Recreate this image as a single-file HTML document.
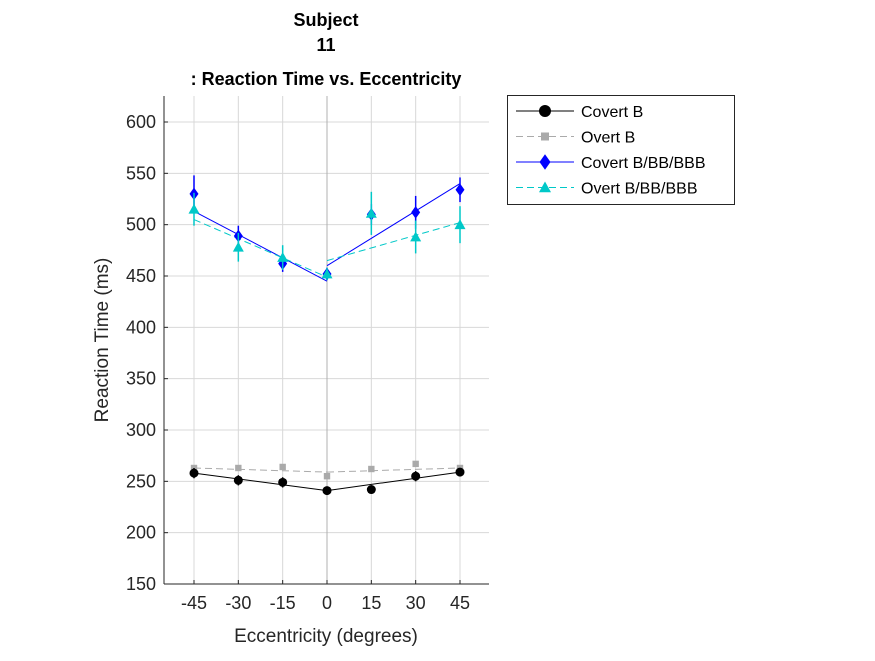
<!DOCTYPE html>
<html><head><meta charset="utf-8"><style>
body{margin:0;background:#fff;font-family:"Liberation Sans",Arial,sans-serif}
svg text{font-family:"Liberation Sans",Arial,sans-serif}
</style></head><body>
<svg id="chart" width="875" height="656" xmlns="http://www.w3.org/2000/svg">
<rect width="875" height="656" fill="#fff"/>
<g id="grid"></g>
<g id="marks"></g>
<g id="axes"></g>
<text x="326" y="26" text-anchor="middle" font-weight="bold" font-size="18">Subject</text>
<text x="326" y="51" text-anchor="middle" font-weight="bold" font-size="18">11</text>
<text x="326" y="85" text-anchor="middle" font-weight="bold" font-size="18">: Reaction Time vs. Eccentricity</text>
<text x="326" y="642" text-anchor="middle" font-size="19" fill="#262626">Eccentricity (degrees)</text>
<text transform="translate(108,340) rotate(-90)" text-anchor="middle" font-size="19" fill="#262626">Reaction Time (ms)</text>
<g id="legend"></g>
</svg>
<script>
const xCats=[-45,-30,-15,0,15,30,45];
const yTicks=[150,200,250,300,350,400,450,500,550,600];
const coverB=[258,251,249,241,242,255,259];
const coverBErr=[5,5,5,4,4,5,4];
const overtB=[263,263,264,255,262,267,263];
const coverBBB=[530,489,462,452,510,512,534];
const coverBBBErr=[18,10,8,6,10,16,12];
const overtBBB=[515,478,468,452,511,488,500];
const overtBBBErr=[16,14,12,6,21,16,18];
const fitCovertB=[258,241,241,259];
const fitOvertB=[263,259,259,263];
const fitCovertBBB=[513,445,460,540];
const fitOvertBBB=[505,449,465,502];
const legendLabels=["Covert B","Overt B","Covert B/BB/BBB","Overt B/BB/BBB"];

const NS="http://www.w3.org/2000/svg";
const L=164,R=489,T=96,B=584;
const xs=v=>194+(v+45)*(266/90);
const ys=v=>B-(v-150)*(462/450);
function mk(tag,attrs,parent){const e=document.createElementNS(NS,tag);for(const k in attrs)e.setAttribute(k,attrs[k]);parent.appendChild(e);return e;}
const grid=document.getElementById('grid'),marks=document.getElementById('marks'),axes=document.getElementById('axes'),leg=document.getElementById('legend');
xCats.forEach(c=>{const l=mk('line',{x1:xs(c),x2:xs(c),y1:T,y2:B,stroke:'#d8d8d8','stroke-width':1},grid);


const t=mk('text',{x:xs(c),y:B+25,'text-anchor':'middle','font-size':18,fill:'#262626'},axes);t.textContent=c;

});
yTicks.forEach(v=>{const l=mk('line',{x1:L,x2:R,y1:ys(v),y2:ys(v),stroke:'#d8d8d8','stroke-width':1},grid);


mk('line',{x1:L,x2:L+4,y1:ys(v),y2:ys(v),stroke:'#262626'},axes);
const t=mk('text',{x:L-8,y:ys(v)+6,'text-anchor':'end','font-size':18,fill:'#262626'},axes);t.textContent=v;

});
xCats.forEach(c=>mk('line',{x1:xs(c),x2:xs(c),y1:B,y2:B-4,stroke:'#262626'},axes));
mk('line',{x1:xs(0),x2:xs(0),y1:T,y2:B,stroke:'#b0b0b0','stroke-width':1},grid);
mk('line',{x1:L,x2:L,y1:T,y2:B,stroke:'#262626'},axes);
mk('line',{x1:L,x2:R,y1:B,y2:B,stroke:'#262626'},axes);

function fit(arr,color,dash,name){
  const segs=[[-45,arr[0],0,arr[1]],[0,arr[2],45,arr[3]]];
  segs.forEach(s=>{const l=mk('line',{x1:xs(s[0]),y1:ys(s[1]),x2:xs(s[2]),y2:ys(s[3]),stroke:color,'stroke-width':1,'stroke-dasharray':dash||'none'},marks);
  
  });
}
function marker(g,shape,x,y,color,s){
  if(shape==='circle')return mk('circle',{cx:x,cy:y,r:s,fill:color},g);
  if(shape==='square')return mk('rect',{x:x-s,y:y-s,width:2*s,height:2*s,fill:color},g);
  if(shape==='diamond')return mk('polygon',{points:`${x},${y-s*1.4} ${x+s},${y} ${x},${y+s*1.4} ${x-s},${y}`,fill:color},g);
  return mk('polygon',{points:`${x},${y-s} ${x+s},${y+s*0.8} ${x-s},${y+s*0.8}`,fill:color},g);
}
function series(vals,errs,color,shape,size,name){
  vals.forEach((v,i)=>{
    if(errs){const e=mk('line',{x1:xs(xCats[i]),x2:xs(xCats[i]),y1:ys(v-errs[i]),y2:ys(v+errs[i]),stroke:color,'stroke-width':1.5},marks);
    
    }
    const m=marker(marks,shape,xs(xCats[i]),ys(v),color,size);
    
    
  });
}
fit(fitOvertB,'#aaaaaa','7,4','overt-b-fit');
fit(fitCovertB,'#000','', 'covert-b-fit');
fit(fitCovertBBB,'#0000ff','','covert-bbb-fit');
fit(fitOvertBBB,'#00c8c8','7,4','overt-bbb-fit');
series(overtB,null,'#aaaaaa','square',3.2,'overt-b');
series(coverB,coverBErr,'#000','circle',4.5,'covert-b');
series(coverBBB,coverBBBErr,'#0000ff','diamond',4.5,'covert-bbb');
series(overtBBB,overtBBBErr,'#00c8c8','triangle',5.5,'overt-bbb');

mk('rect',{x:507.5,y:95.5,width:227,height:109,fill:'#fff',stroke:'#262626'},leg);
const lc=['#000','#aaaaaa','#0000ff','#00c8c8'],ld=['none','7,4','none','7,4'],lsh=['circle','square','diamond','triangle'],lsz=[6,4,5.5,6];
legendLabels.forEach((lab,i)=>{const y=111+i*25.5;
 const g=mk('g',{},leg);
 
 
 mk('line',{x1:516,x2:574,y1:y,y2:y,stroke:lc[i],'stroke-dasharray':ld[i]},g);
 marker(g,lsh[i],545,y,lc[i],lsz[i]);
 const t=mk('text',{x:581,y:y+6,'font-size':16,fill:'#000'},g);t.textContent=lab;});
</script>
</body></html>
